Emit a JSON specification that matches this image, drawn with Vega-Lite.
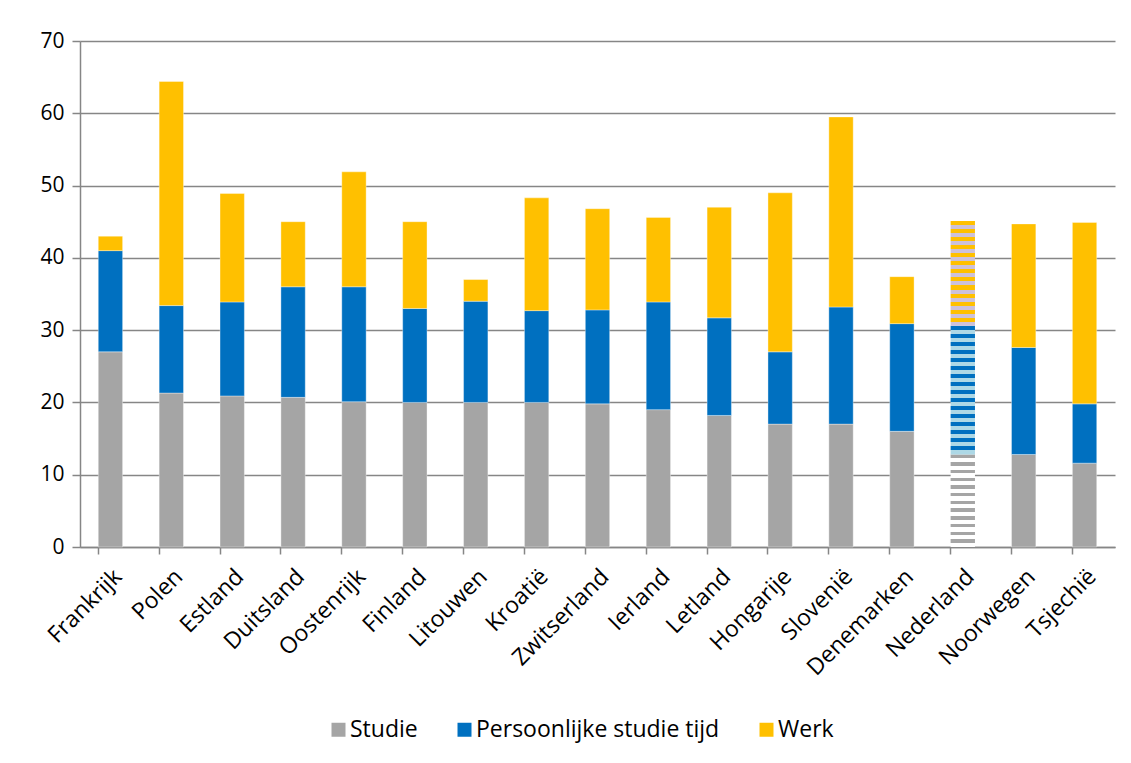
{
  "$schema": "https://vega.github.io/schema/vega-lite/v6.json",
  "width": 1035,
  "height": 506,
  "autosize": {"type": "none"},
  "padding": {"left": 80, "top": 41, "right": 16, "bottom": 216},
  "background": "white",
  "config": {
    "font": "Open Sans",
    "view": {"stroke": null},
    "axis": {"labelFont": "Open Sans", "labelColor": "#000000", "labelFontSize": 20, "domainColor": "#868686", "tickColor": "#868686", "gridColor": "#868686"}
  },
  "datasets": {
    "rangorde": [
      {"cat": "Studie", "rang": 1},
      {"cat": "Persoonlijke studie tijd", "rang": 2},
      {"cat": "Werk", "rang": 3}
    ]
  },
  "data": {
    "values": [
      {"land": "Frankrijk", "Studie": 27.0, "Persoonlijke studie tijd": 14.0, "Werk": 2.0},
      {"land": "Polen", "Studie": 21.3, "Persoonlijke studie tijd": 12.1, "Werk": 31.0},
      {"land": "Estland", "Studie": 20.9, "Persoonlijke studie tijd": 13.0, "Werk": 15.0},
      {"land": "Duitsland", "Studie": 20.7, "Persoonlijke studie tijd": 15.3, "Werk": 9.0},
      {"land": "Oostenrijk", "Studie": 20.1, "Persoonlijke studie tijd": 15.9, "Werk": 15.9},
      {"land": "Finland", "Studie": 20.0, "Persoonlijke studie tijd": 13.0, "Werk": 12.0},
      {"land": "Litouwen", "Studie": 20.0, "Persoonlijke studie tijd": 14.0, "Werk": 3.0},
      {"land": "Kroatië", "Studie": 20.0, "Persoonlijke studie tijd": 12.7, "Werk": 15.6},
      {"land": "Zwitserland", "Studie": 19.8, "Persoonlijke studie tijd": 13.0, "Werk": 14.0},
      {"land": "Ierland", "Studie": 19.0, "Persoonlijke studie tijd": 14.9, "Werk": 11.7},
      {"land": "Letland", "Studie": 18.2, "Persoonlijke studie tijd": 13.5, "Werk": 15.3},
      {"land": "Hongarije", "Studie": 17.0, "Persoonlijke studie tijd": 10.0, "Werk": 22.0},
      {"land": "Slovenië", "Studie": 17.0, "Persoonlijke studie tijd": 16.2, "Werk": 26.3},
      {"land": "Denemarken", "Studie": 16.0, "Persoonlijke studie tijd": 14.9, "Werk": 6.5},
      {"land": "Nederland", "Studie": 12.8, "Persoonlijke studie tijd": 17.8, "Werk": 14.5},
      {"land": "Noorwegen", "Studie": 12.8, "Persoonlijke studie tijd": 14.8, "Werk": 17.1},
      {"land": "Tsjechië", "Studie": 11.6, "Persoonlijke studie tijd": 8.2, "Werk": 25.1}
    ]
  },
  "transform": [
    {"fold": ["Studie", "Persoonlijke studie tijd", "Werk"], "as": ["cat", "value"]},
    {"lookup": "cat", "from": {"data": {"name": "rangorde"}, "key": "cat", "fields": ["rang"]}}
  ],
  "encoding": {
    "x": {
      "field": "land", "type": "nominal",
      "scale": {"domain": ["Frankrijk","Polen","Estland","Duitsland","Oostenrijk","Finland","Litouwen","Kroatië","Zwitserland","Ierland","Letland","Hongarije","Slovenië","Denemarken","Nederland","Noorwegen","Tsjechië"], "paddingInner": 0.6, "paddingOuter": 0.3},
      "axis": {"title": null, "labelAngle": -45, "labelFontSize": 23, "labelPadding": 11, "bandPosition": 0, "tickSize": 7, "tickWidth": 1.5, "domainWidth": 1.5}
    },
    "y": {
      "field": "value", "type": "quantitative", "stack": "zero",
      "scale": {"domain": [0, 70], "nice": false},
      "axis": {"title": null, "values": [0,10,20,30,40,50,60,70], "grid": true, "gridWidth": 1.5, "tickSize": 8, "tickWidth": 1.5, "domainWidth": 1.5, "labelPadding": 8, "labelFontSize": 21}
    },
    "order": {"field": "rang", "type": "quantitative", "sort": "ascending"}
  },
  "layer": [
    {
      "transform": [{"filter": "datum.land !== 'Nederland'"}],
      "mark": {"type": "bar", "stroke": "white", "strokeWidth": 0.6, "strokeOpacity": 0.6},
      "encoding": {
        "color": {
          "field": "cat", "type": "nominal",
          "sort": ["Studie", "Persoonlijke studie tijd", "Werk"],
          "scale": {"domain": ["Studie", "Persoonlijke studie tijd", "Werk"], "range": ["#A5A5A5", "#0070C0", "#FFC000"]},
          "legend": {"title": null, "orient": "none", "legendX": 247, "legendY": 677, "direction": "horizontal", "symbolType": "square", "symbolSize": 196, "symbolStrokeWidth": 0, "labelFontSize": 23, "labelFont": "Open Sans", "labelColor": "#000000", "labelLimit": 400, "columnPadding": 35, "labelOffset": 0}
        }
      }
    },
    {
      "transform": [{"filter": "datum.land === 'Nederland'"}],
      "mark": {"type": "bar"},
      "encoding": {
        "fill": {
          "condition": [
            {"test": "datum.cat === 'Studie'", "value": {"gradient": "linear", "x1": 0, "y1": 0, "x2": 0, "y2": 1, "stops": [
              {"offset": 0, "color": "#A5A5A5"}, {"offset": 0.0375, "color": "#A5A5A5"}, {"offset": 0.0375, "color": "#FFFFFF"}, {"offset": 0.0833, "color": "#FFFFFF"},
              {"offset": 0.0833, "color": "#A5A5A5"}, {"offset": 0.1208, "color": "#A5A5A5"}, {"offset": 0.1208, "color": "#FFFFFF"}, {"offset": 0.1667, "color": "#FFFFFF"},
              {"offset": 0.1667, "color": "#A5A5A5"}, {"offset": 0.2042, "color": "#A5A5A5"}, {"offset": 0.2042, "color": "#FFFFFF"}, {"offset": 0.25, "color": "#FFFFFF"},
              {"offset": 0.25, "color": "#A5A5A5"}, {"offset": 0.2875, "color": "#A5A5A5"}, {"offset": 0.2875, "color": "#FFFFFF"}, {"offset": 0.3333, "color": "#FFFFFF"},
              {"offset": 0.3333, "color": "#A5A5A5"}, {"offset": 0.3708, "color": "#A5A5A5"}, {"offset": 0.3708, "color": "#FFFFFF"}, {"offset": 0.4167, "color": "#FFFFFF"},
              {"offset": 0.4167, "color": "#A5A5A5"}, {"offset": 0.4542, "color": "#A5A5A5"}, {"offset": 0.4542, "color": "#FFFFFF"}, {"offset": 0.5, "color": "#FFFFFF"},
              {"offset": 0.5, "color": "#A5A5A5"}, {"offset": 0.5375, "color": "#A5A5A5"}, {"offset": 0.5375, "color": "#FFFFFF"}, {"offset": 0.5833, "color": "#FFFFFF"},
              {"offset": 0.5833, "color": "#A5A5A5"}, {"offset": 0.6208, "color": "#A5A5A5"}, {"offset": 0.6208, "color": "#FFFFFF"}, {"offset": 0.6667, "color": "#FFFFFF"},
              {"offset": 0.6667, "color": "#A5A5A5"}, {"offset": 0.7042, "color": "#A5A5A5"}, {"offset": 0.7042, "color": "#FFFFFF"}, {"offset": 0.75, "color": "#FFFFFF"},
              {"offset": 0.75, "color": "#A5A5A5"}, {"offset": 0.7875, "color": "#A5A5A5"}, {"offset": 0.7875, "color": "#FFFFFF"}, {"offset": 0.8333, "color": "#FFFFFF"},
              {"offset": 0.8333, "color": "#A5A5A5"}, {"offset": 0.8708, "color": "#A5A5A5"}, {"offset": 0.8708, "color": "#FFFFFF"}, {"offset": 0.9167, "color": "#FFFFFF"},
              {"offset": 0.9167, "color": "#A5A5A5"}, {"offset": 0.9542, "color": "#A5A5A5"}, {"offset": 0.9542, "color": "#FFFFFF"}, {"offset": 1, "color": "#FFFFFF"}
            ]}},
            {"test": "datum.cat === 'Werk'", "value": {"gradient": "linear", "x1": 0, "y1": 0, "x2": 0, "y2": 1, "stops": [
              {"offset": 0, "color": "#FFC000"}, {"offset": 0.0385, "color": "#FFC000"}, {"offset": 0.0385, "color": "#CCC1DA"}, {"offset": 0.0769, "color": "#CCC1DA"},
              {"offset": 0.0769, "color": "#FFC000"}, {"offset": 0.1154, "color": "#FFC000"}, {"offset": 0.1154, "color": "#CCC1DA"}, {"offset": 0.1538, "color": "#CCC1DA"},
              {"offset": 0.1538, "color": "#FFC000"}, {"offset": 0.1923, "color": "#FFC000"}, {"offset": 0.1923, "color": "#CCC1DA"}, {"offset": 0.2308, "color": "#CCC1DA"},
              {"offset": 0.2308, "color": "#FFC000"}, {"offset": 0.2692, "color": "#FFC000"}, {"offset": 0.2692, "color": "#CCC1DA"}, {"offset": 0.3077, "color": "#CCC1DA"},
              {"offset": 0.3077, "color": "#FFC000"}, {"offset": 0.3462, "color": "#FFC000"}, {"offset": 0.3462, "color": "#CCC1DA"}, {"offset": 0.3846, "color": "#CCC1DA"},
              {"offset": 0.3846, "color": "#FFC000"}, {"offset": 0.4231, "color": "#FFC000"}, {"offset": 0.4231, "color": "#CCC1DA"}, {"offset": 0.4615, "color": "#CCC1DA"},
              {"offset": 0.4615, "color": "#FFC000"}, {"offset": 0.5, "color": "#FFC000"}, {"offset": 0.5, "color": "#CCC1DA"}, {"offset": 0.5385, "color": "#CCC1DA"},
              {"offset": 0.5385, "color": "#FFC000"}, {"offset": 0.5769, "color": "#FFC000"}, {"offset": 0.5769, "color": "#CCC1DA"}, {"offset": 0.6154, "color": "#CCC1DA"},
              {"offset": 0.6154, "color": "#FFC000"}, {"offset": 0.6538, "color": "#FFC000"}, {"offset": 0.6538, "color": "#CCC1DA"}, {"offset": 0.6923, "color": "#CCC1DA"},
              {"offset": 0.6923, "color": "#FFC000"}, {"offset": 0.7308, "color": "#FFC000"}, {"offset": 0.7308, "color": "#CCC1DA"}, {"offset": 0.7692, "color": "#CCC1DA"},
              {"offset": 0.7692, "color": "#FFC000"}, {"offset": 0.8077, "color": "#FFC000"}, {"offset": 0.8077, "color": "#CCC1DA"}, {"offset": 0.8462, "color": "#CCC1DA"},
              {"offset": 0.8462, "color": "#FFC000"}, {"offset": 0.8846, "color": "#FFC000"}, {"offset": 0.8846, "color": "#CCC1DA"}, {"offset": 0.9231, "color": "#CCC1DA"},
              {"offset": 0.9231, "color": "#FFC000"}, {"offset": 0.9615, "color": "#FFC000"}, {"offset": 0.9615, "color": "#CCC1DA"}, {"offset": 1, "color": "#CCC1DA"}
            ]}}
          ],
          "value": {"gradient": "linear", "x1": 0, "y1": 0, "x2": 0, "y2": 1, "stops": [
            {"offset": 0, "color": "#0070C0"}, {"offset": 0.03125, "color": "#0070C0"}, {"offset": 0.03125, "color": "#ADD8E6"}, {"offset": 0.0625, "color": "#ADD8E6"},
            {"offset": 0.0625, "color": "#0070C0"}, {"offset": 0.09375, "color": "#0070C0"}, {"offset": 0.09375, "color": "#ADD8E6"}, {"offset": 0.125, "color": "#ADD8E6"},
            {"offset": 0.125, "color": "#0070C0"}, {"offset": 0.15625, "color": "#0070C0"}, {"offset": 0.15625, "color": "#ADD8E6"}, {"offset": 0.1875, "color": "#ADD8E6"},
            {"offset": 0.1875, "color": "#0070C0"}, {"offset": 0.21875, "color": "#0070C0"}, {"offset": 0.21875, "color": "#ADD8E6"}, {"offset": 0.25, "color": "#ADD8E6"},
            {"offset": 0.25, "color": "#0070C0"}, {"offset": 0.28125, "color": "#0070C0"}, {"offset": 0.28125, "color": "#ADD8E6"}, {"offset": 0.3125, "color": "#ADD8E6"},
            {"offset": 0.3125, "color": "#0070C0"}, {"offset": 0.34375, "color": "#0070C0"}, {"offset": 0.34375, "color": "#ADD8E6"}, {"offset": 0.375, "color": "#ADD8E6"},
            {"offset": 0.375, "color": "#0070C0"}, {"offset": 0.40625, "color": "#0070C0"}, {"offset": 0.40625, "color": "#ADD8E6"}, {"offset": 0.4375, "color": "#ADD8E6"},
            {"offset": 0.4375, "color": "#0070C0"}, {"offset": 0.46875, "color": "#0070C0"}, {"offset": 0.46875, "color": "#ADD8E6"}, {"offset": 0.5, "color": "#ADD8E6"},
            {"offset": 0.5, "color": "#0070C0"}, {"offset": 0.53125, "color": "#0070C0"}, {"offset": 0.53125, "color": "#ADD8E6"}, {"offset": 0.5625, "color": "#ADD8E6"},
            {"offset": 0.5625, "color": "#0070C0"}, {"offset": 0.59375, "color": "#0070C0"}, {"offset": 0.59375, "color": "#ADD8E6"}, {"offset": 0.625, "color": "#ADD8E6"},
            {"offset": 0.625, "color": "#0070C0"}, {"offset": 0.65625, "color": "#0070C0"}, {"offset": 0.65625, "color": "#ADD8E6"}, {"offset": 0.6875, "color": "#ADD8E6"},
            {"offset": 0.6875, "color": "#0070C0"}, {"offset": 0.71875, "color": "#0070C0"}, {"offset": 0.71875, "color": "#ADD8E6"}, {"offset": 0.75, "color": "#ADD8E6"},
            {"offset": 0.75, "color": "#0070C0"}, {"offset": 0.78125, "color": "#0070C0"}, {"offset": 0.78125, "color": "#ADD8E6"}, {"offset": 0.8125, "color": "#ADD8E6"},
            {"offset": 0.8125, "color": "#0070C0"}, {"offset": 0.84375, "color": "#0070C0"}, {"offset": 0.84375, "color": "#ADD8E6"}, {"offset": 0.875, "color": "#ADD8E6"},
            {"offset": 0.875, "color": "#0070C0"}, {"offset": 0.90625, "color": "#0070C0"}, {"offset": 0.90625, "color": "#ADD8E6"}, {"offset": 0.9375, "color": "#ADD8E6"},
            {"offset": 0.9375, "color": "#0070C0"}, {"offset": 0.96875, "color": "#0070C0"}, {"offset": 0.96875, "color": "#ADD8E6"}, {"offset": 1, "color": "#ADD8E6"}
          ]}
        }
      }
    }
  ]
}
